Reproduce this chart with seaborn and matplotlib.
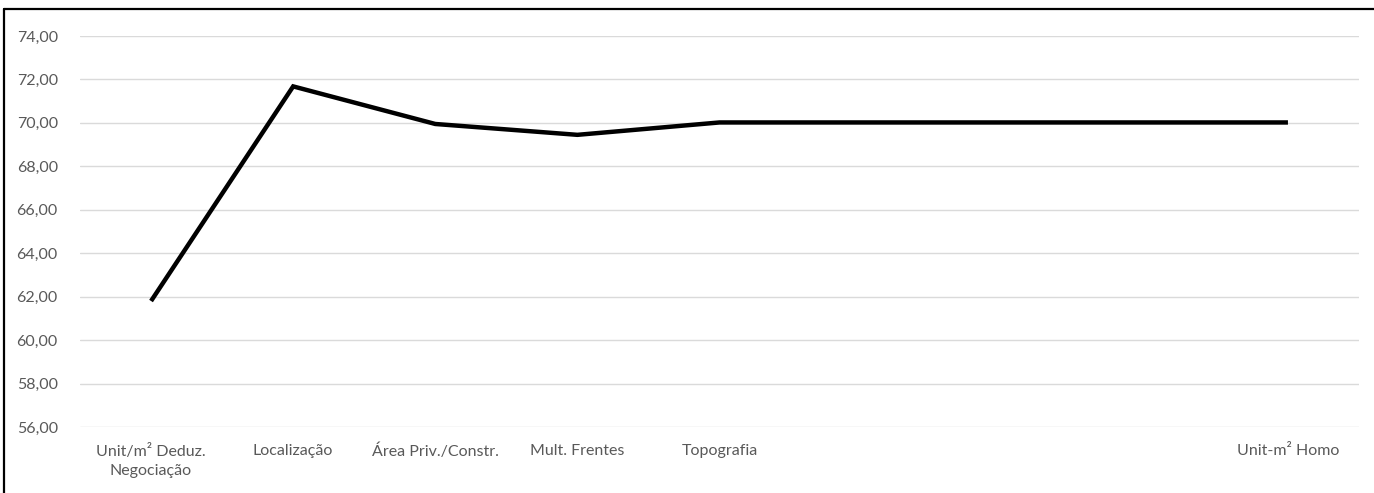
import numpy as np
import pandas as pd
import matplotlib
matplotlib.use("Agg")
import matplotlib.pyplot as plt
from matplotlib.lines import Line2D
from matplotlib.ticker import FuncFormatter, MultipleLocator
import seaborn as sns

# Homogenization steps (empty slots keep the category spacing)
categories = [
    "Unit/m² Deduz.\nNegociação",
    "Localização",
    "Área Priv./Constr.",
    "Mult. Frentes",
    "Topografia",
    "",
    "",
    "",
    "Unit-m² Homo",
]
values = [61.80, 71.68, 69.95, 69.45, 70.02, np.nan, np.nan, np.nan, 70.02]

y_min, y_max, y_step = 56, 74, 2

sns.set_theme(style="white")
plt.rcParams["font.family"] = ["Lato", "DejaVu Sans"]

fig = plt.figure(figsize=(13.74, 4.93), dpi=100)
ax = fig.add_axes([80 / 1374, 1 - 427 / 493, (1359 - 80) / 1374, (427 - 36) / 493])

df = pd.DataFrame({"pos": np.arange(len(categories)), "valor": values}).dropna()
sns.lineplot(data=df, x="pos", y="valor", ax=ax, color="black", linewidth=3.2,
             solid_joinstyle="miter", solid_capstyle="butt", zorder=3)

ax.set_xlim(-0.5, len(categories) - 0.5)
ax.set_ylim(y_min, y_max)
ax.yaxis.set_major_locator(MultipleLocator(y_step))
ax.yaxis.set_major_formatter(FuncFormatter(lambda v, _: f"{v:.2f}".replace(".", ",")))
ax.set_xticks(range(len(categories)))
ax.set_xticklabels(categories)
ax.set_xlabel("")
ax.set_ylabel("")

ax.grid(axis="y", color="#dadada", linewidth=1.0)
ax.grid(axis="x", visible=False)
for s in ax.spines.values():
    s.set_visible(False)

ax.tick_params(axis="y", length=0, pad=16, labelsize=11.5, labelcolor="#595959")
ax.tick_params(axis="x", length=0, pad=12, labelsize=11.5, labelcolor="#595959")
for lbl in ax.get_xticklabels():
    lbl.set_linespacing(1.45)

# Frame lines along the top and left edges of the figure
fig.add_artist(Line2D([4 / 1374, 4 / 1374], [0, 1 - 9 / 493], transform=fig.transFigure,
                      color="black", linewidth=1.6))
fig.add_artist(Line2D([4 / 1374, 1], [1 - 9 / 493, 1 - 9 / 493], transform=fig.transFigure,
                      color="black", linewidth=1.6))

fig.savefig("out.png", dpi=100, facecolor="white")
